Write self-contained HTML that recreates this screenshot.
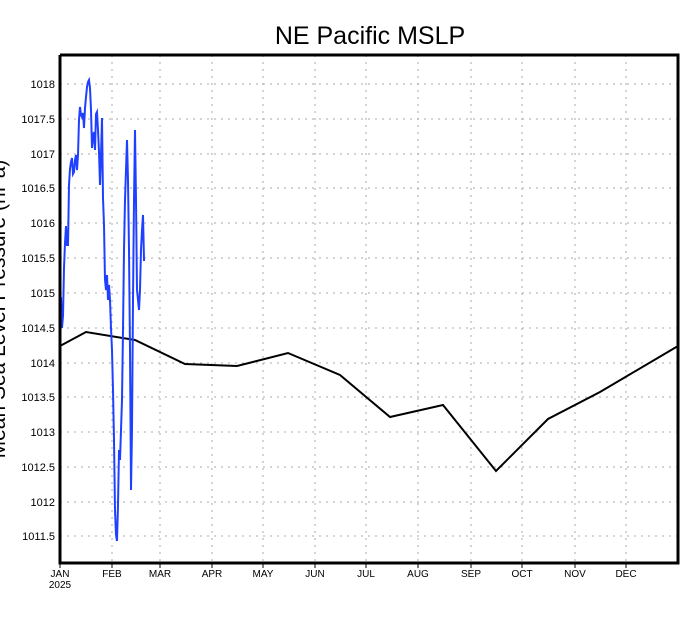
<!DOCTYPE html>
<html><head><style>
html,body{margin:0;padding:0;background:#fff;overflow:hidden}
svg{display:block}
text{font-family:"Liberation Sans",sans-serif;fill:#000}
</style></head><body>
<svg width="690" height="618" viewBox="0 0 690 618" xmlns="http://www.w3.org/2000/svg">
<rect width="690" height="618" fill="#fff"/>
<text x="370" y="44" font-size="25" text-anchor="middle">NE Pacific MSLP</text>
<text transform="translate(5,309) rotate(-90)" font-size="21" text-anchor="middle">Mean Sea Level Pressure (hPa)</text>
<g stroke="#aaa" stroke-width="1" stroke-dasharray="2,5">
<line x1="60" y1="84" x2="678" y2="84"/>
<line x1="60" y1="119" x2="678" y2="119"/>
<line x1="60" y1="154" x2="678" y2="154"/>
<line x1="60" y1="188" x2="678" y2="188"/>
<line x1="60" y1="223" x2="678" y2="223"/>
<line x1="60" y1="258" x2="678" y2="258"/>
<line x1="60" y1="293" x2="678" y2="293"/>
<line x1="60" y1="328" x2="678" y2="328"/>
<line x1="60" y1="363" x2="678" y2="363"/>
<line x1="60" y1="397" x2="678" y2="397"/>
<line x1="60" y1="432" x2="678" y2="432"/>
<line x1="60" y1="467" x2="678" y2="467"/>
<line x1="60" y1="502" x2="678" y2="502"/>
<line x1="60" y1="536" x2="678" y2="536"/>
<line x1="112" y1="55" x2="112" y2="563"/>
<line x1="160" y1="55" x2="160" y2="563"/>
<line x1="212" y1="55" x2="212" y2="563"/>
<line x1="263" y1="55" x2="263" y2="563"/>
<line x1="315" y1="55" x2="315" y2="563"/>
<line x1="366" y1="55" x2="366" y2="563"/>
<line x1="418" y1="55" x2="418" y2="563"/>
<line x1="471" y1="55" x2="471" y2="563"/>
<line x1="522" y1="55" x2="522" y2="563"/>
<line x1="575" y1="55" x2="575" y2="563"/>
<line x1="626" y1="55" x2="626" y2="563"/>
</g>
<g font-size="11" text-anchor="end">
<text x="55" y="88">1018</text>
<text x="55" y="123">1017.5</text>
<text x="55" y="158">1017</text>
<text x="55" y="192">1016.5</text>
<text x="55" y="227">1016</text>
<text x="55" y="262">1015.5</text>
<text x="55" y="297">1015</text>
<text x="55" y="332">1014.5</text>
<text x="55" y="367">1014</text>
<text x="55" y="401">1013.5</text>
<text x="55" y="436">1013</text>
<text x="55" y="471">1012.5</text>
<text x="55" y="506">1012</text>
<text x="55" y="540">1011.5</text>
</g>
<g font-size="10" text-anchor="middle">
<text x="60" y="577">JAN</text><text x="60" y="588">2025</text>
<text x="112" y="577">FEB</text><text x="160" y="577">MAR</text>
<text x="212" y="577">APR</text><text x="263" y="577">MAY</text>
<text x="315" y="577">JUN</text><text x="366" y="577">JUL</text>
<text x="418" y="577">AUG</text><text x="471" y="577">SEP</text>
<text x="522" y="577">OCT</text><text x="575" y="577">NOV</text>
<text x="626" y="577">DEC</text>
</g>
<polyline fill="none" stroke="#000" stroke-width="2" points="60,346 86,332 135,340 185,364 237,366 288,353 340,375 390,417 443,405 496,471 548,419 600,392 678,346"/>
<polyline fill="none" stroke="#2040ff" stroke-width="2" points="60,300 61,297 62,328 63,316 64,268 65,243 66,226 67,245 68,245 69,185 70,169 71,162 72,158 73,174 74,172 75,160 76,155 77,170 78,155 79,120 80,107 81,115 82,117 83,113 84,128 85,108 86,97 87,87 88,82 89,80 90,88 91,110 92,148 93,137 94,132 95,150 96,114 97,112 98,130 99,152 100,185 101,155 102,118 103,198 104,225 105,280 106,290 107,275 108,300 109,285 110,300 111,328 112,350 113,390 114,440 115,510 116,535 117,541 118,505 119,450 120,460 121,430 122,400 123,330 124,250 125,200 126,170 127,140 128,180 129,250 130,350 131,490 132,430 133,300 134,200 135,130 136,200 137,290 138,300 139,310 140,290 141,250 142,230 143,215 144,260 145,260"/>
<polyline fill="none" stroke="#000" stroke-width="3" points="60,55 678,55 678,563 60,563 60,55"/>
<g stroke="#000" stroke-width="1">
<line x1="60" y1="563" x2="60" y2="568"/><line x1="112" y1="563" x2="112" y2="568"/>
<line x1="160" y1="563" x2="160" y2="568"/><line x1="212" y1="563" x2="212" y2="568"/>
<line x1="263" y1="563" x2="263" y2="568"/><line x1="315" y1="563" x2="315" y2="568"/>
<line x1="366" y1="563" x2="366" y2="568"/><line x1="418" y1="563" x2="418" y2="568"/>
<line x1="471" y1="563" x2="471" y2="568"/><line x1="522" y1="563" x2="522" y2="568"/>
<line x1="575" y1="563" x2="575" y2="568"/><line x1="626" y1="563" x2="626" y2="568"/>
</g>
</svg>
</body></html>
